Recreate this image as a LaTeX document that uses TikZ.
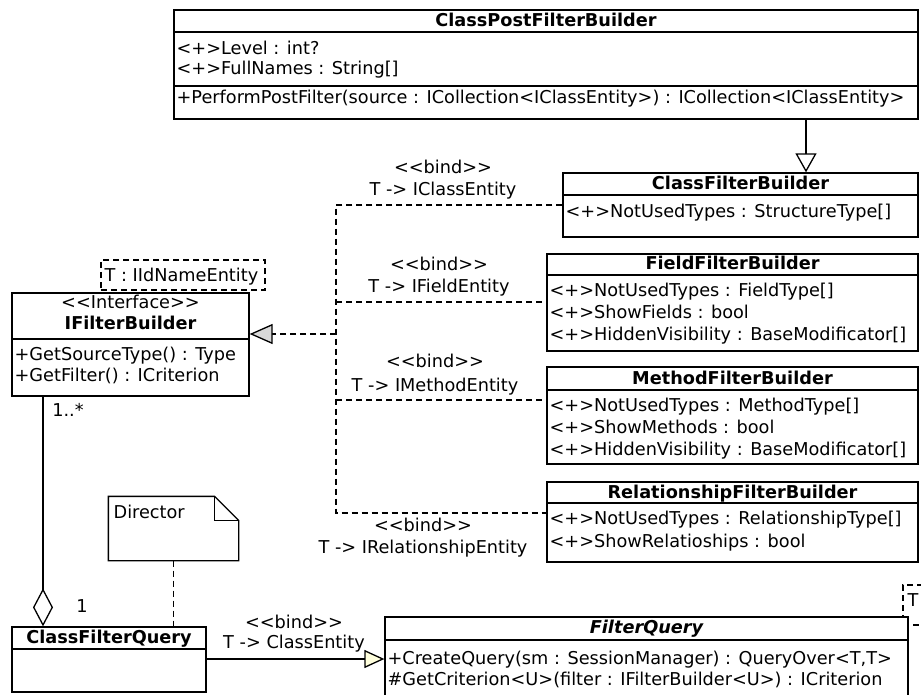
\documentclass[tikz,border=0pt]{standalone}
\usepackage{fontspec}
\setmainfont{DejaVu Sans}[Ligatures=TeXOff]
\usetikzlibrary{arrows.meta}
\definecolor{tipgray}{HTML}{D9D9D9}
\definecolor{tipyellow}{HTML}{FFFFDD}
\begin{document}
\begin{tikzpicture}[x=1pt,y=-1pt,line width=1.3pt,
  every node/.style={font=\fontsize{17.7}{21}\selectfont,inner sep=0pt,text height=13pt,text depth=4pt},
  box/.style={draw,rectangle,fill=white},
  attr/.style={anchor=west},
  ttl/.style={font=\fontsize{17.7}{21}\selectfont\bfseries},
  lbl/.style={},
  dsh/.style={dash pattern=on 6pt off 4pt,line width=1.1pt},
]
\useasboundingbox (0,0) rectangle (921,695);

% ---------- ClassPostFilterBuilder
\node[box,minimum width=744pt,minimum height=109pt] (cpfb) at (546,64.5) {};
\draw (cpfb.west |- 0,32) -- (cpfb.east |- 0,32);
\draw (cpfb.west |- 0,86) -- (cpfb.east |- 0,86);
\node[ttl] (cpfb-t) at (546,22) {ClassPostFilterBuilder};
\node[attr] (cpfb-a1) at (176,50) {<+>Level : int?};
\node[attr] (cpfb-a2) at (176,70) {<+>FullNames : String[]};
\node[attr] (cpfb-m1) at (176,99) {+PerformPostFilter(source : ICollection<IClassEntity>) : ICollection<IClassEntity>};

% ---------- ClassFilterBuilder
\node[box,minimum width=355pt,minimum height=64pt] (cfb) at (740.5,205) {};
\draw (cfb.west |- 0,195) -- (cfb.east |- 0,195);
\node[ttl] (cfb-t) at (740.5,185) {ClassFilterBuilder};
\node[attr] (cfb-a1) at (565,213) {<+>NotUsedTypes : StructureType[]};

% ---------- FieldFilterBuilder
\node[box,minimum width=371pt,minimum height=97pt] (ffb) at (732.5,302.5) {};
\draw (ffb.west |- 0,275) -- (ffb.east |- 0,275);
\node[ttl] (ffb-t) at (732.5,265) {FieldFilterBuilder};
\node[attr] (ffb-a1) at (549,292) {<+>NotUsedTypes : FieldType[]};
\node[attr] (ffb-a2) at (549,314) {<+>ShowFields : bool};
\node[attr] (ffb-a3) at (549,336) {<+>HiddenVisibility : BaseModificator[]};

% ---------- MethodFilterBuilder
\node[box,minimum width=371pt,minimum height=97pt] (mfb) at (732.5,415.5) {};
\draw (mfb.west |- 0,390) -- (mfb.east |- 0,390);
\node[ttl] (mfb-t) at (732.5,380) {MethodFilterBuilder};
\node[attr] (mfb-a1) at (549,407) {<+>NotUsedTypes : MethodType[]};
\node[attr] (mfb-a2) at (549,429) {<+>ShowMethods : bool};
\node[attr] (mfb-a3) at (549,451) {<+>HiddenVisibility : BaseModificator[]};

% ---------- RelationshipFilterBuilder
\node[box,minimum width=371pt,minimum height=80pt] (rfb) at (732.5,522) {};
\draw (rfb.west |- 0,503) -- (rfb.east |- 0,503);
\node[ttl] (rfb-t) at (732.5,494) {RelationshipFilterBuilder};
\node[attr] (rfb-a1) at (549,520) {<+>NotUsedTypes : RelationshipType[]};
\node[attr] (rfb-a2) at (549,543) {<+>ShowRelatioships : bool};

% ---------- IFilterBuilder with template
\node[draw,dash pattern=on 6pt off 4pt,line width=1.1pt,rectangle,minimum width=164pt,minimum height=30pt] (tpl1) at (183,275) {};
\node[attr] (tpl1-t) at (104,277) {T : IIdNameEntity};
\node[box,minimum width=237pt,minimum height=103pt] (ifb) at (130.5,344.5) {};
\draw (ifb.west |- 0,339) -- (ifb.east |- 0,339);
\node (ifb-s) at (130.5,304) {<<Interface>>};
\node[ttl] (ifb-t) at (130.5,325) {IFilterBuilder};
\node[attr] (ifb-m1) at (14,356) {+GetSourceType() : Type};
\node[attr] (ifb-m2) at (14,377) {+GetFilter() : ICriterion};

% ---------- ClassFilterQuery
\node[box,minimum width=194pt,minimum height=65pt] (cfq) at (109,659.5) {};
\draw (cfq.west |- 0,649) -- (cfq.east |- 0,649);
\node[ttl] (cfq-t) at (109,639) {ClassFilterQuery};

% ---------- FilterQuery with template
\node[draw,dash pattern=on 6pt off 4pt,line width=1.1pt,rectangle,minimum width=60pt,minimum height=40pt] (tpl2) at (933,605) {};
\node[attr] (tpl2-t) at (907,602) {T};
\node[box,minimum width=523pt,minimum height=90pt] (fq) at (646.5,662) {};
\draw (fq.west |- 0,640) -- (fq.east |- 0,640);
\node[font=\fontsize{17.7}{21}\selectfont\bfseries\itshape] (fq-t) at (646.5,629) {FilterQuery};
\node[attr] (fq-m1) at (387,660) {+CreateQuery(sm : SessionManager) : QueryOver<T,T>};
\node[attr] (fq-m2) at (387,681) {\#GetCriterion<U>(filter : IFilterBuilder<U>) : ICriterion};

% ---------- Note
\node[minimum width=129pt,minimum height=63pt] (note) at (173.5,528.5) {};
\draw[fill=white] (note.north west) -- ([xshift=-24pt]note.north east) -- ([yshift=-24pt]note.north east) -- (note.south east) -- (note.south west) -- cycle;
\draw ([xshift=-24pt]note.north east) -- ([xshift=-24pt,yshift=-24pt]note.north east) -- ([yshift=-24pt]note.north east);
\node[attr] (note-t) at (113,514) {Director};

% ---------- connectors
% generalization
\draw[-{Triangle[open,length=19pt,width=21pt]}] (cpfb.south -| 806,0) -- (cfb.north -| 806,0);

% bindings to IFilterBuilder
\coordinate (j1) at (336,205);
\coordinate (j2) at (336,302);
\coordinate (jr) at (336,334);
\coordinate (j3) at (336,400);
\coordinate (j4) at (336,513);
\draw[dsh] (cfb.west |- j1) -- (j1) -- (j4) -- (rfb.west |- j4);
\draw[dsh] (j2) -- (ffb.west |- j2);
\draw[dsh] (j3) -- (mfb.west |- j3);
\draw[dsh,line width=1.9pt,-{Triangle[length=23pt,width=20pt,fill=tipgray,line width=1.3pt]}] (jr) -- (ifb.east |- jr);

\node (b1a) at (443,169) {<<bind>>};
\node (b1b) at (443,191) {T -> IClassEntity};
\node (b2a) at (439,266) {<<bind>>};
\node (b2b) at (439,288) {T -> IFieldEntity};
\node (b3a) at (435,363) {<<bind>>};
\node (b3b) at (435,387) {T -> IMethodEntity};
\node (b4a) at (423,527) {<<bind>>};
\node (b4b) at (423,549) {T -> IRelationshipEntity};

% aggregation
\draw[-{Diamond[open,length=38pt,width=20pt]}] (ifb.south -| 43,0) -- (cfq.north -| 43,0);
\node (m1) at (68,412) {1..*};
\node (m2) at (82,608) {1};

% note link
\draw[dsh] (note.south) -- (note.south |- cfq.north);

% bind ClassFilterQuery -> FilterQuery
\draw[-{Triangle[length=20pt,width=18pt,fill=tipyellow]}] (cfq.east |- 0,659) -- (fq.west |- 0,659);
\node (b5a) at (294,624) {<<bind>>};
\node (b5b) at (294,644) {T -> ClassEntity};
\end{tikzpicture}
\end{document}
